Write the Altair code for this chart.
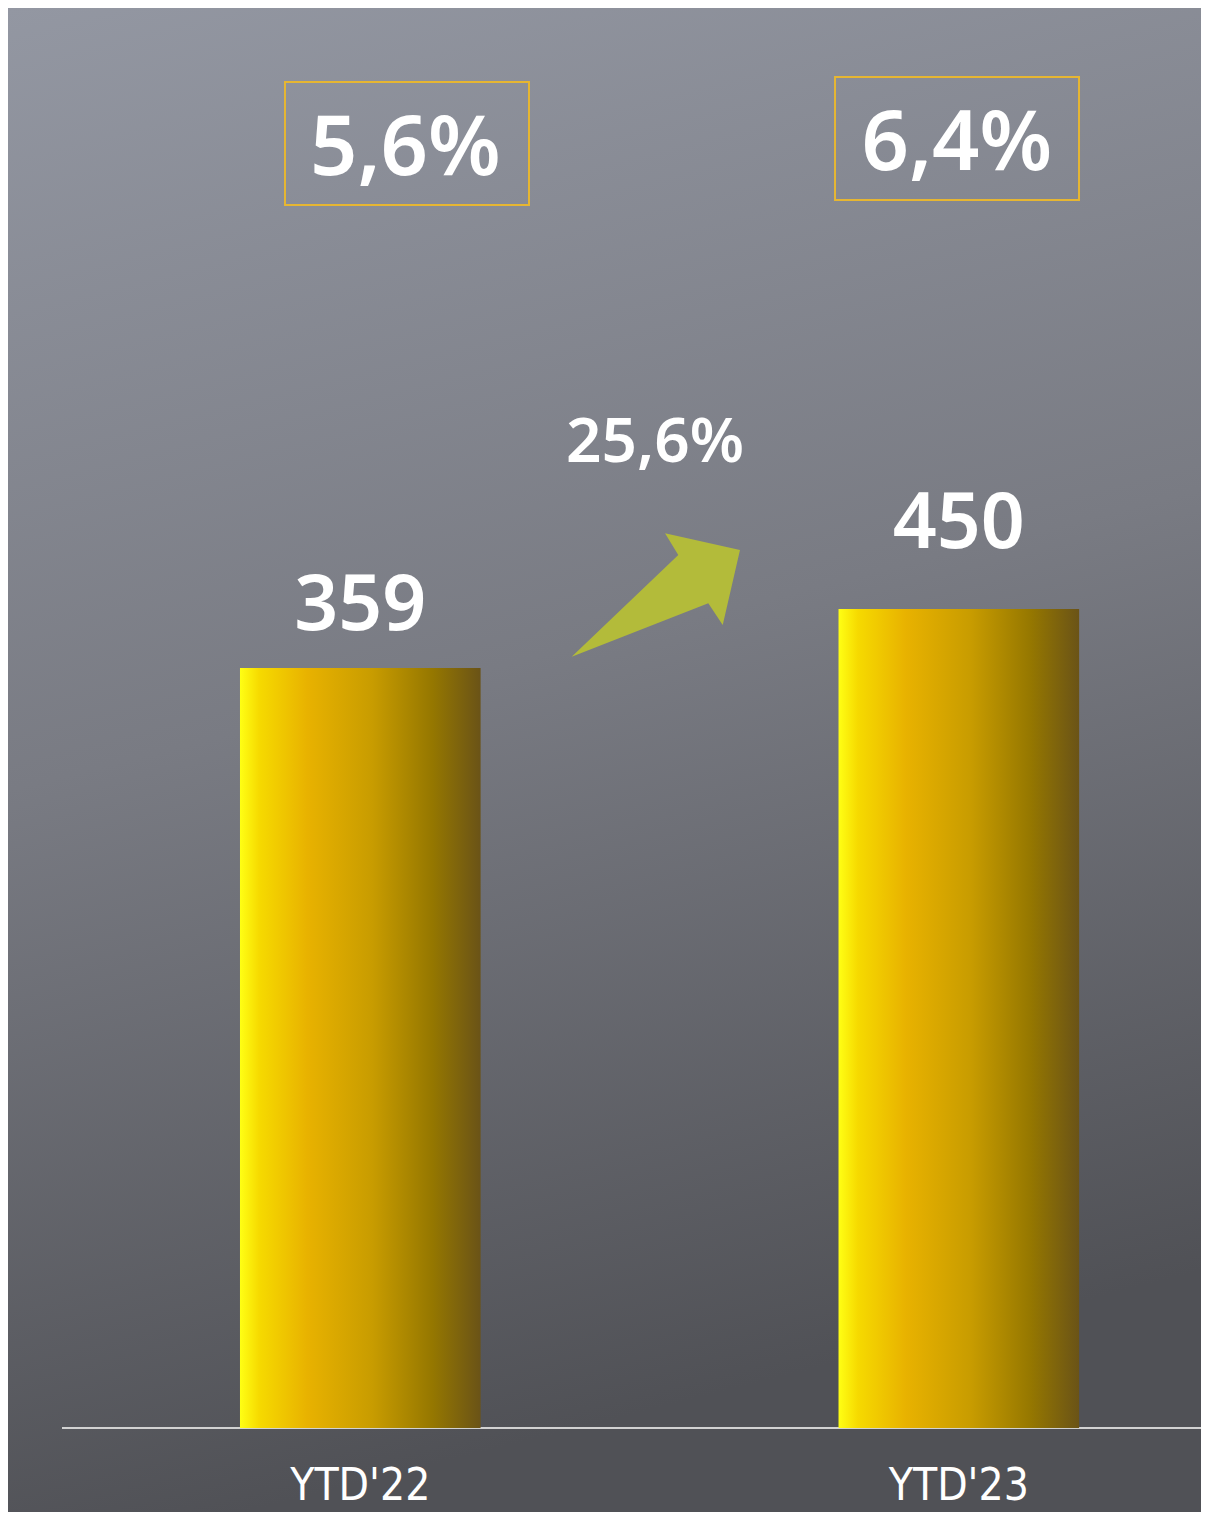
import altair as alt
import pandas as pd

# ---- data ----
categories = ["YTD'22", "YTD'23"]
values = [359, 450]
margins = ["5,6%", "6,4%"]
growth = ["25,6%"]

# ---- layout / style ----
W, H = 1193, 1504
Y_DOMAIN = [-942.76, 1376.97]
BASE = -813.2
label_dy = [-38, -61]
box_off = [46.7, -1.8]
box_top = [74, 69]
box_bot = [197, 192]
box_text_off = [45, -2]
box_text_y = [167, 162]

NUM_FONT = "Noto Sans"
LBL_FONT = "Liberation Sans Narrow, DejaVu Sans Condensed, Roboto, sans-serif"

df = pd.DataFrame({"cat": categories, "value": values, "margin": margins})
one = pd.DataFrame({"k": [0]})

xscale = alt.Scale(domain=categories, paddingInner=0.598, paddingOuter=0.2956, align=0.6556)
yscale = alt.Scale(domain=Y_DOMAIN, zero=False, nice=False)
X = alt.X("cat:N", scale=xscale, axis=None)

bg_grad = alt.LinearGradient(
    gradient="linear",
    stops=[
        alt.GradientStop(offset=0, color="#9397a2"),
        alt.GradientStop(offset=0.5, color="#797b83"),
        alt.GradientStop(offset=1, color="#505156"),
    ],
    x1=0, y1=0, x2=0.2, y2=1,
)
bar_grad = alt.LinearGradient(
    gradient="linear",
    stops=[
        alt.GradientStop(offset=0, color="#ffff14"),
        alt.GradientStop(offset=0.08, color="#f6da00"),
        alt.GradientStop(offset=0.28, color="#e8b200"),
        alt.GradientStop(offset=0.55, color="#c89c00"),
        alt.GradientStop(offset=0.8, color="#957700"),
        alt.GradientStop(offset=1, color="#6a5317"),
    ],
    x1=0, y1=0, x2=1, y2=0,
)

bg = alt.Chart(one).mark_rect(color=bg_grad).encode(
    x=alt.value(0), x2=alt.value(W), y=alt.value(0), y2=alt.value(H)
)

axis_line = alt.Chart(one).transform_calculate(base=str(BASE)).mark_rule(
    color="#d2d2d2", strokeWidth=2
).encode(
    x=alt.value(54), x2=alt.value(W),
    y=alt.Y("base:Q", scale=yscale, axis=None),
)

bars = alt.Chart(df).transform_calculate(base=str(BASE)).mark_bar(color=bar_grad).encode(
    x=X,
    y=alt.Y("value:Q", scale=yscale, axis=None),
    y2="base:Q",
)

layers = [bg, axis_line, bars]

for i, c in enumerate(categories):
    sub = alt.Chart(df).transform_filter(alt.datum.cat == c)
    layers.append(
        sub.mark_text(font=NUM_FONT, fontSize=77, fontWeight=600, color="white",
                      baseline="alphabetic", dy=label_dy[i]).encode(
            x=X, y=alt.Y("value:Q", scale=yscale, axis=None), text="value:Q")
    )
    layers.append(
        sub.mark_bar(width=244, fill="transparent", stroke="#e6b632", strokeWidth=2,
                     xOffset=box_off[i]).encode(
            x=X, y=alt.value(box_top[i]), y2=alt.value(box_bot[i]))
    )
    layers.append(
        sub.mark_text(font=NUM_FONT, fontSize=83, fontWeight=600, color="white",
                      baseline="alphabetic", dx=box_text_off[i]).encode(
            x=X, y=alt.value(box_text_y[i]), text="margin:N")
    )

growth_text = alt.Chart(pd.DataFrame({"g": growth})).mark_text(
    font=NUM_FONT, fontSize=62, fontWeight=600, color="white", baseline="alphabetic"
).encode(x=alt.value(647), y=alt.value(454), text="g:N")

ARROW = ("M -0.986 0.726 L 0.268 -0.471 L 0.112 -0.726 L 0.994 -0.529 "
         "L 0.791 0.353 L 0.621 0.098 Z")
arrow = alt.Chart(one).mark_point(
    shape=ARROW, filled=True, size=28900, color="#b3bb3a", opacity=1, strokeWidth=0
).encode(x=alt.value(647.5), y=alt.value(587))

xlabels = alt.Chart(df).mark_text(
    font=LBL_FONT, fontSize=44, color="white", baseline="alphabetic"
).encode(x=X, y=alt.value(1492), text="cat:N")

layers += [growth_text, arrow, xlabels]

chart = alt.layer(*layers).properties(
    width=W, height=H, autosize=alt.AutoSizeParams(type="none"), padding=0,
    background="#6f7178",
).configure_view(strokeWidth=0)

chart.save("out.html", embed_options={"renderer": "svg", "actions": False})
